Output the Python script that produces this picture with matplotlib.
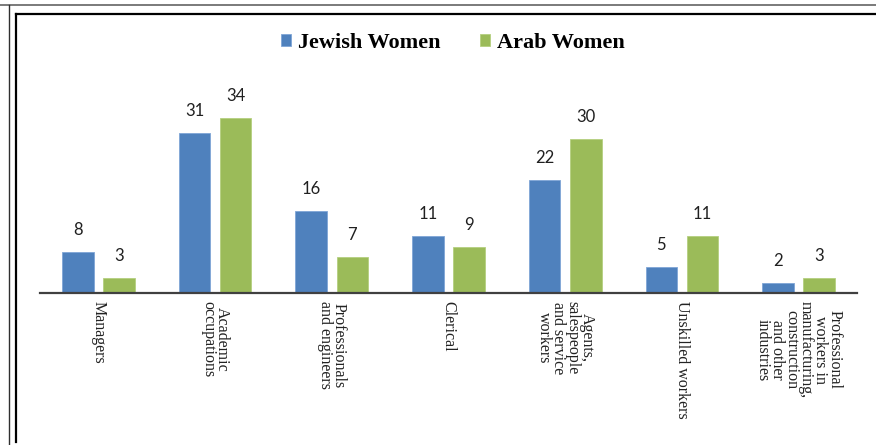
import matplotlib
matplotlib.use("Agg")
import matplotlib.pyplot as plt
import numpy as np
from matplotlib.lines import Line2D

categories = ["Managers", "Academic\noccupations", "Professionals\nand engineers", "Clerical",
              "Agents,\nsalespeople\nand service\nworkers", "Unskilled workers",
              "Professional\nworkers in\nmanufacturing,\nconstruction\nand other\nindustries"]
jewish = [8, 31, 16, 11, 22, 5, 2]
arab = [3, 34, 7, 9, 30, 11, 3]
series_names = ["Jewish Women", "Arab Women"]
colors = ["#4F81BD", "#9BBB59"]

fig = plt.figure(figsize=(8.76, 4.45), dpi=100)
ax = fig.add_axes([40/876, 1-293/445, (857-40)/876, (293-87)/445])

x = np.arange(len(categories))
w = 0.27
off = 0.176
b1 = ax.bar(x - off, jewish, w, color=colors[0], label=series_names[0], edgecolor="#7FA5D6", linewidth=0.6)
b2 = ax.bar(x + off, arab, w, color=colors[1], label=series_names[1], edgecolor="#B5D07F", linewidth=0.6)

for bars, vals in ((b1, jewish), (b2, arab)):
    for r, v in zip(bars, vals):
        ax.annotate(str(v), (r.get_x() + r.get_width()/2, r.get_height()),
                    xytext=(0, 10), textcoords="offset points", ha="center", va="bottom",
                    fontsize=12, family="Lato", color="#202020")

ax.set_xlim(-0.5, len(categories) - 0.5)
ax.set_ylim(0, 40)
ax.set_yticks([])
ax.set_xticks(x)
ax.set_xticklabels(categories, rotation=270, ha="center", va="top", multialignment="center",
                   fontsize=11.5, family="Liberation Serif", color="#222222", linespacing=0.85)
ax.tick_params(axis="x", length=0, pad=6)
for s in ["top", "right", "left"]:
    ax.spines[s].set_visible(False)
ax.spines["bottom"].set_color("#404040")
ax.spines["bottom"].set_linewidth(1.6)

leg = fig.legend(handles=[b1, b2], labels=series_names, loc="center", bbox_to_anchor=(453/876, 1-43/445),
                 ncol=2, frameon=False, prop={"family": "Liberation Serif", "weight": "bold", "size": 16},
                 handlelength=0.45, handleheight=0.45, handletextpad=0.3, columnspacing=1.8)

# outer frame lines
fig.add_artist(Line2D([0, 1], [1-4.5/445, 1-4.5/445], transform=fig.transFigure, color="#707070", lw=1.3))
fig.add_artist(Line2D([8.5/876, 8.5/876], [0, 1-4.5/445], transform=fig.transFigure, color="#303030", lw=1.0))
fig.add_artist(Line2D([16/876, 1], [1-13.5/445, 1-13.5/445], transform=fig.transFigure, color="#000000", lw=1.6))
fig.add_artist(Line2D([16/876, 16/876], [3/445, 1-13.5/445], transform=fig.transFigure, color="#000000", lw=1.6))

fig.savefig("out.png", dpi=100)
